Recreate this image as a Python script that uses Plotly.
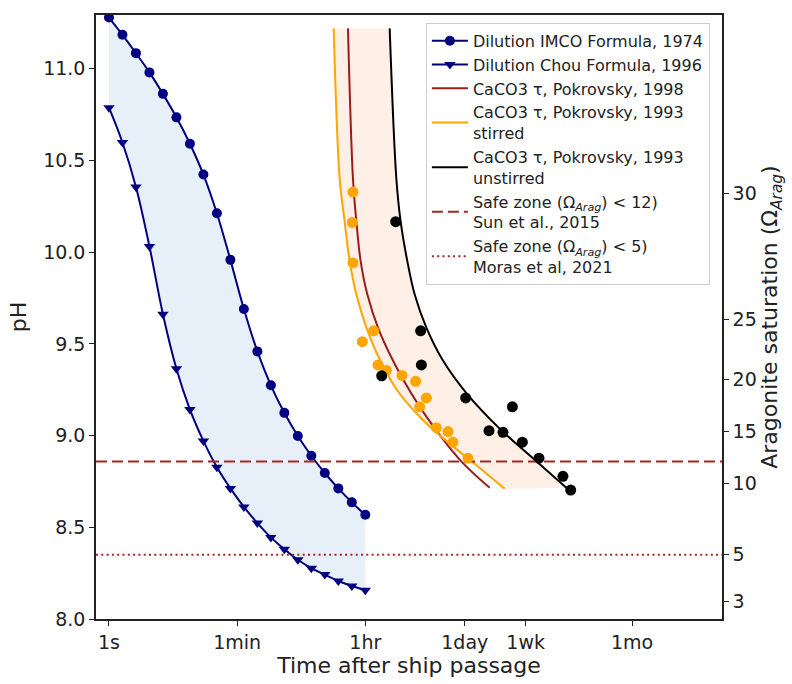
import plotly.graph_objects as go

# ---- time axis (seconds) ----
tick_seconds = [1, 60, 3600, 86400, 604800, 18144000]
tick_labels = ["1s", "1min", "1hr", "1day", "1wk", "1mo"]
x_range_log = [-0.18, 8.506]

# ---- pH axis / aragonite saturation equivalents ----
ph_range = [8.0, 11.293]
omega_labels = ["3", "5", "10", "15", "20", "25", "30"]
omega_ph = [8.094, 8.351, 8.737, 9.025, 9.304, 9.634, 10.319]

# ---- dilution models ----
dilution_t = [1, 1.539, 2.368, 3.644, 5.607, 8.628, 13.28, 20.43, 31.44, 48.38,
              74.45, 114.6, 176.3, 271.3, 417.5, 642.4, 988.6, 1521, 2341, 3600]
imco_ph = [11.279, 11.185, 11.085, 10.980, 10.863, 10.735, 10.591, 10.423, 10.212, 9.958,
           9.690, 9.459, 9.274, 9.124, 8.998, 8.890, 8.796, 8.712, 8.636, 8.568]
chou_ph = [10.788, 10.598, 10.355, 10.031, 9.661, 9.364, 9.142, 8.971, 8.827, 8.712,
           8.611, 8.523, 8.445, 8.380, 8.323, 8.277, 8.242, 8.207, 8.180, 8.157]

# ---- CaCO3 precipitation curves ----
pok98_t = [2072, 2430, 2710, 3107, 3850, 5400, 8720, 15700, 25350, 73500, 191600]
pok98_ph = [11.22, 10.400, 10.166, 9.950, 9.769, 9.589, 9.409, 9.229, 9.103, 8.869, 8.715]

stirred_t = [1312, 1589, 1863, 2188, 2710, 3730, 5700, 10140, 20470, 45500, 101100, 309600]
stirred_ph = [11.22, 10.400, 10.166, 9.950, 9.769, 9.589, 9.416, 9.243, 9.103, 8.978,
              8.868, 8.710]

unstirred_t = [7850, 9720, 11150, 13810, 17460, 25350, 43100, 91000, 263700, 764000, 2220000]
unstirred_ph = [11.22, 10.400, 10.166, 9.950, 9.769, 9.589, 9.409, 9.232, 9.038, 8.876,
                8.715]

# ---- experimental observations ----
stirred_obs_t = [2430, 2385, 2430, 4710, 3280, 5400, 7060, 11630, 18000, 25350,
                 20470, 34900, 50580, 59300, 95800]
stirred_obs_ph = [10.328, 10.162, 9.941, 9.571, 9.512, 9.385, 9.355, 9.328, 9.296, 9.205,
                  9.157, 9.043, 9.022, 8.964, 8.877]
unstirred_obs_t = [9510, 21130, 21620, 6080, 89000, 395700, 187500, 293000, 544700,
                   925500, 1990000, 2550000]
unstirred_obs_ph = [10.166, 9.571, 9.385, 9.326, 9.205, 9.157, 9.027, 9.018, 8.964,
                    8.877, 8.778, 8.703]

# ---- safe-zone thresholds (pH equivalent of the Omega limit) ----
safe_sun_ph = 8.859
safe_moras_ph = 8.350

NAVY = "#000080"
ORANGE = "#FFA500"
DARKRED = "#9A1C1C"
SAFE_RED = "#A52424"
FONT = "DejaVu Sans"

fig = go.Figure()

# shaded envelope between the two dilution formulas
fig.add_trace(go.Scatter(
    x=dilution_t + dilution_t[::-1], y=imco_ph + chou_ph[::-1],
    fill="toself", fillcolor="rgb(231,239,248)", line=dict(width=0),
    mode="lines", showlegend=False, hoverinfo="skip"))

# shaded envelope between stirred and unstirred precipitation
fig.add_trace(go.Scatter(
    x=stirred_t + unstirred_t[::-1], y=stirred_ph + unstirred_ph[::-1],
    fill="toself", fillcolor="rgb(254,240,230)", line=dict(width=0),
    mode="lines", showlegend=False, hoverinfo="skip"))

fig.add_trace(go.Scatter(
    x=dilution_t, y=imco_ph, mode="lines+markers", name="Dilution IMCO Formula, 1974",
    line=dict(color=NAVY, width=2, shape="spline"),
    marker=dict(symbol="circle", size=10, color=NAVY)))
fig.add_trace(go.Scatter(
    x=dilution_t, y=chou_ph, mode="lines+markers", name="Dilution Chou Formula, 1996",
    line=dict(color=NAVY, width=2, shape="spline"),
    marker=dict(symbol="triangle-down", size=10, color=NAVY)))

fig.add_trace(go.Scatter(
    x=pok98_t, y=pok98_ph, mode="lines", name="CaCO3 τ, Pokrovsky, 1998",
    line=dict(color=DARKRED, width=2, shape="spline", smoothing=1)))
fig.add_trace(go.Scatter(
    x=stirred_t, y=stirred_ph, mode="lines", name="CaCO3 τ, Pokrovsky, 1993<br>stirred",
    line=dict(color=ORANGE, width=2, shape="spline", smoothing=1)))
fig.add_trace(go.Scatter(
    x=unstirred_t, y=unstirred_ph, mode="lines", name="CaCO3 τ, Pokrovsky, 1993<br>unstirred",
    line=dict(color="black", width=2, shape="spline", smoothing=1)))

x_lo, x_hi = 10 ** x_range_log[0], 10 ** x_range_log[1]
fig.add_trace(go.Scatter(
    x=[x_lo, x_hi], y=[safe_sun_ph, safe_sun_ph], mode="lines",
    name="Safe zone (Ω<sub><i>Arag</i></sub>) &lt; 12)<br>Sun et al., 2015",
    line=dict(color=SAFE_RED, width=2, dash="11px,5px")))
fig.add_trace(go.Scatter(
    x=[x_lo, x_hi], y=[safe_moras_ph, safe_moras_ph], mode="lines",
    name="Safe zone (Ω<sub><i>Arag</i></sub>) &lt; 5)<br>Moras et al, 2021",
    line=dict(color=SAFE_RED, width=2, dash="2px,3.3px")))

fig.add_trace(go.Scatter(
    x=stirred_obs_t, y=stirred_obs_ph, mode="markers", showlegend=False,
    marker=dict(color=ORANGE, size=11)))
fig.add_trace(go.Scatter(
    x=unstirred_obs_t, y=unstirred_obs_ph, mode="markers", showlegend=False,
    marker=dict(color="black", size=11)))

# invisible trace carrying the secondary (aragonite) axis
fig.add_trace(go.Scatter(x=[None], y=[None], yaxis="y2", showlegend=False, hoverinfo="skip"))

axis_common = dict(
    showline=True, linecolor="#222", linewidth=1.5, ticks="outside", ticklen=5,
    tickwidth=1.3, tickcolor="#222", showgrid=False, zeroline=False,
    tickfont=dict(family=FONT, size=19, color="#222"))

fig.update_layout(
    width=792, height=684,
    margin=dict(l=96, r=70, t=15, b=60),
    paper_bgcolor="white", plot_bgcolor="white",
    font=dict(family=FONT, color="#222"),
    xaxis=dict(type="log", range=x_range_log, tickvals=tick_seconds, ticktext=tick_labels,
               mirror=True,
               title=dict(text="Time after ship passage", font=dict(family=FONT, size=22),
                          standoff=4),
               **axis_common),
    yaxis=dict(range=ph_range, tickvals=[8.0, 8.5, 9.0, 9.5, 10.0, 10.5, 11.0],
               tickformat=".1f",
               title=dict(text="pH", font=dict(family=FONT, size=22), standoff=10),
               **axis_common),
    yaxis2=dict(overlaying="y", side="right", range=ph_range, tickvals=omega_ph,
                ticktext=omega_labels,
                title=dict(text="Aragonite saturation (Ω<sub><i>Arag</i></sub>)",
                           font=dict(family=FONT, size=22), standoff=6),
                **axis_common),
    legend=dict(x=0.527, y=0.987, xanchor="left", yanchor="top",
                bgcolor="rgba(255,255,255,0.85)", bordercolor="#cccccc", borderwidth=1,
                font=dict(family=FONT, size=16, color="#222"), itemwidth=36),
    showlegend=True,
)

fig.write_html("out.html")
